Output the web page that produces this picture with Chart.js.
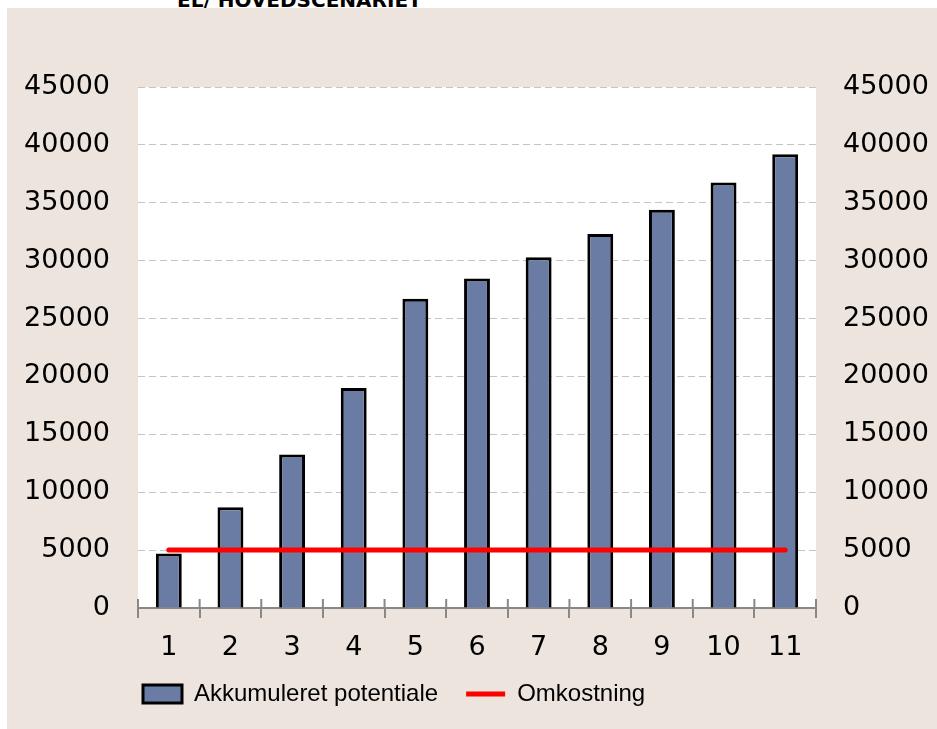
<!DOCTYPE html>
<html lang="da">
<head>
  <meta charset="UTF-8" />
  <title>Akkumuleret potentiale</title>
  <script src="https://cdn.jsdelivr.net/npm/chart.js"></script>
  <style>
    body { margin: 0; background: #fff; width: 937px; height: 729px; position: relative; overflow: hidden; }
    .title { position: absolute; left: 177px; top: -10px; font: bold 20px 'DejaVu Sans', sans-serif; line-height: 20px; color: #000; white-space: nowrap; }
    .panel { position: absolute; left: 7px; top: 8px; right: 0; bottom: 0; background: #ede5dd; }
    canvas { position: absolute; left: 0; top: 0; }
  </style>
</head>
<body>
  <div class="title">EL/ HOVEDSCENARIET</div>
  <div class="panel"></div>
  <canvas id="chart" width="937" height="729"></canvas>

  <script>
    const categories = ['1', '2', '3', '4', '5', '6', '7', '8', '9', '10', '11'];
    const potentiale = [4700, 8700, 13250, 19000, 26700, 28450, 30300, 32300, 34400, 36750, 39200];
    const omkostning = [5000, 5000, 5000, 5000, 5000, 5000, 5000, 5000, 5000, 5000, 5000];
    const yMin = 0, yMax = 45000, yStep = 5000;

    const tickFont = { family: "'DejaVu Sans', sans-serif", size: 27 };
    const plainNumber = v => String(v);

    // white plot background + tick marks crossing the x axis
    const plotDeco = {
      id: 'plotDeco',
      beforeDraw(chart) {
        const a = chart.chartArea;
        chart.ctx.save();
        chart.ctx.fillStyle = '#fff';
        chart.ctx.fillRect(a.left, a.top, a.right - a.left, a.bottom - a.top);
        chart.ctx.restore();
      },
      afterDraw(chart) {
        const x = chart.scales.x;
        const ctx = chart.ctx;
        const half = (x.getPixelForValue(1) - x.getPixelForValue(0)) / 2;
        ctx.save();
        ctx.strokeStyle = '#888';
        ctx.lineWidth = 2;
        for (let i = 0; i <= categories.length; i++) {
          const px = i < categories.length ? x.getPixelForValue(i) - half : x.getPixelForValue(i - 1) + half;
          ctx.beginPath();
          ctx.moveTo(px, x.top - 9);
          ctx.lineTo(px, x.top);
          ctx.stroke();
        }
        ctx.restore();
      },
      afterLayout(chart) {
        // legend sits left of centre in the original
        chart.legend.left = 115;
        chart.legend.top = 654;
      }
    };

    new Chart(document.getElementById('chart'), {
      type: 'bar',
      data: {
        labels: categories,
        datasets: [{
          label: 'Akkumuleret potentiale',
          data: potentiale,
          backgroundColor: '#6b7ca4',
          borderColor: '#000',
          borderWidth: 3,
          barPercentage: 0.42,
          categoryPercentage: 1,
          pointStyle: 'rect',
          yAxisID: 'y',
          order: 1
        }, {
          type: 'line',
          label: 'Omkostning',
          data: omkostning,
          borderColor: '#ff0000',
          backgroundColor: '#ff0000',
          borderWidth: 5,
          borderCapStyle: 'round',
          pointRadius: 0,
          pointStyle: 'line',
          yAxisID: 'y1',
          order: 0
        }]
      },
      options: {
        responsive: false,
        animation: false,
        layout: { padding: { top: 87, left: 0, right: 0, bottom: 3 } },
        scales: {
          x: {
            offset: true,
            grid: { drawOnChartArea: false, tickLength: 10, color: '#888', lineWidth: 2 },
            border: { color: '#888', width: 2 },
            ticks: { color: '#000', font: tickFont, padding: 14 },
            afterFit(s) { s.height = 56; }
          },
          y: {
            min: yMin, max: yMax,
            ticks: { stepSize: yStep, color: '#000', font: tickFont, padding: 28, callback: plainNumber },
            grid: { color: '#c4c4c4', borderDash: [7, 4], drawTicks: false },
            border: { display: false, dash: [7, 4] },
            afterFit(s) { s.width = 138; }
          },
          y1: {
            position: 'right',
            min: yMin, max: yMax,
            ticks: { stepSize: yStep, color: '#000', font: tickFont, padding: 27, callback: plainNumber },
            grid: { display: false, drawTicks: false },
            border: { display: false },
            afterFit(s) { s.width = 121; }
          }
        },
        plugins: {
          legend: {
            position: 'bottom',
            align: 'start',
            labels: {
              usePointStyle: true,
              pointStyleWidth: 39,
              boxHeight: 18,
              padding: 28,
              color: '#000',
              font: { family: "'Liberation Sans', Arial, sans-serif", size: 24 },
              sort: (a, b) => a.datasetIndex - b.datasetIndex
            }
          },
          tooltip: { enabled: false }
        }
      },
      plugins: [plotDeco]
    });
  </script>
</body>
</html>
